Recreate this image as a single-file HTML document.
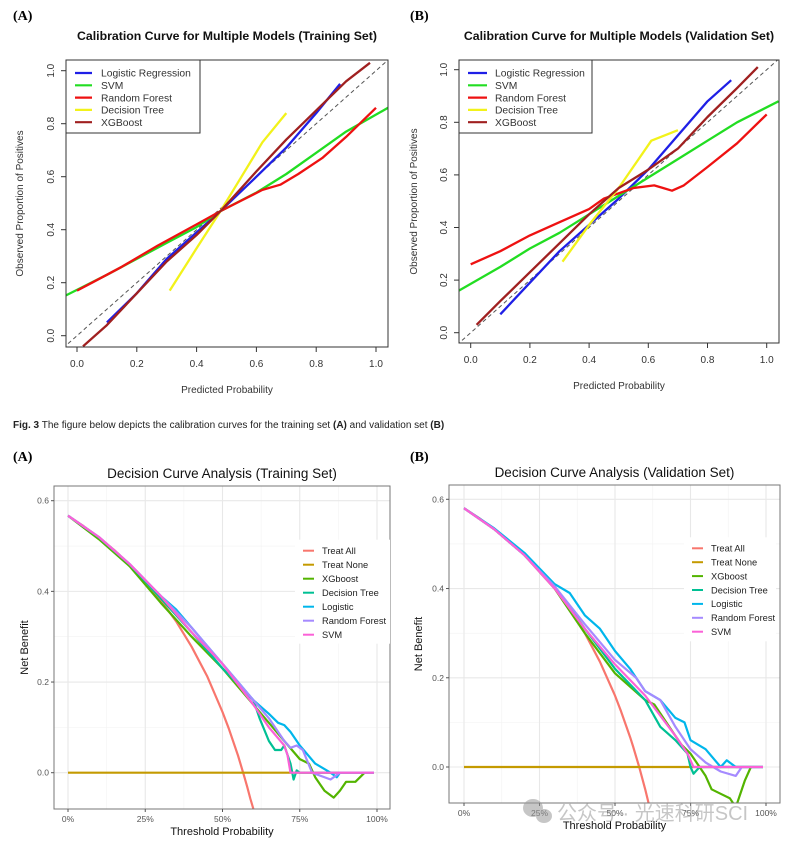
<!DOCTYPE html>
<html><head><meta charset="utf-8">
<style>
html,body{margin:0;padding:0;background:#fff;}
body{width:801px;height:845px;overflow:hidden;position:relative;font-family:"Liberation Sans",Arial,sans-serif;}
svg{position:absolute;left:0;top:0;}
</style></head>
<body>
<svg id="fig" width="801" height="845" viewBox="0 0 801 845">
<text x="13" y="20" font-family="Liberation Serif,serif" font-weight="bold" font-size="14">(A)</text>
<text x="410" y="20" font-family="Liberation Serif,serif" font-weight="bold" font-size="14">(B)</text>
<text x="13" y="428" font-size="10" fill="#222"><tspan font-weight="bold">Fig. 3</tspan>  The figure below depicts the calibration curves for the training set <tspan font-weight="bold">(A)</tspan> and validation set <tspan font-weight="bold">(B)</tspan></text>
<text x="13" y="461" font-family="Liberation Serif,serif" font-weight="bold" font-size="14">(A)</text>
<text x="410" y="461" font-family="Liberation Serif,serif" font-weight="bold" font-size="14">(B)</text>
</svg>
<script>
// ---------- Calibration data (Training) ----------
const calNames = ["Logistic Regression","SVM","Random Forest","Decision Tree","XGBoost"];
const calColors = ["#1f1fe6","#22dd22","#ee1111","#f2f21a","#a02020"];
const calA_LR_x = [0.1,0.2,0.3,0.4,0.48,0.6,0.7,0.8,0.88];
const calA_LR_y = [0.05,0.16,0.29,0.39,0.47,0.6,0.71,0.84,0.95];
const calA_SVM_x = [-0.04,0.1,0.2,0.3,0.4,0.48,0.6,0.7,0.8,0.9,1.04];
const calA_SVM_y = [0.15,0.23,0.29,0.35,0.41,0.47,0.54,0.61,0.69,0.77,0.86];
const calA_RF_x = [0,0.05,0.15,0.27,0.4,0.48,0.55,0.62,0.68,0.74,0.82,0.9,1.0];
const calA_RF_y = [0.17,0.2,0.26,0.34,0.42,0.47,0.51,0.55,0.57,0.61,0.67,0.75,0.86];
const calA_DT_x = [0.31,0.4,0.48,0.55,0.62,0.7];
const calA_DT_y = [0.17,0.33,0.47,0.6,0.73,0.84];
const calA_XGB_x = [0.02,0.1,0.2,0.3,0.4,0.48,0.6,0.7,0.8,0.9,0.98];
const calA_XGB_y = [-0.04,0.04,0.16,0.28,0.38,0.47,0.62,0.74,0.85,0.96,1.03];
// ---------- Calibration data (Validation) ----------
const calB_LR_x = [0.1,0.2,0.3,0.4,0.5,0.6,0.7,0.8,0.88];
const calB_LR_y = [0.07,0.19,0.31,0.41,0.51,0.62,0.75,0.88,0.96];
const calB_SVM_x = [-0.04,0.1,0.2,0.3,0.4,0.5,0.6,0.7,0.8,0.9,1.04];
const calB_SVM_y = [0.16,0.25,0.32,0.38,0.45,0.52,0.59,0.66,0.73,0.8,0.88];
const calB_RF_x = [0,0.1,0.2,0.3,0.4,0.45,0.5,0.55,0.62,0.65,0.68,0.72,0.8,0.9,1.0];
const calB_RF_y = [0.26,0.31,0.37,0.42,0.47,0.51,0.53,0.55,0.56,0.55,0.54,0.56,0.63,0.72,0.83];
const calB_DT_x = [0.31,0.4,0.5,0.61,0.7];
const calB_DT_y = [0.27,0.41,0.55,0.73,0.77];
const calB_XGB_x = [0.02,0.1,0.2,0.3,0.4,0.5,0.6,0.7,0.8,0.9,0.97];
const calB_XGB_y = [0.03,0.12,0.23,0.34,0.45,0.55,0.62,0.7,0.82,0.93,1.01];
const calTicks = [0,0.2,0.4,0.6,0.8,1.0];
const calTickLabels = ["0.0","0.2","0.4","0.6","0.8","1.0"];

// ---------- DCA data ----------
const dcaNames = ["Treat All","Treat None","XGboost","Decision Tree","Logistic","Random Forest","SVM"];
const dcaColors = ["#F8766D","#C49A00","#53B400","#00C094","#00B6EB","#A58AFF","#FB61D7"];
const dcaA_All_x = [0,0.05,0.1,0.15,0.2,0.25,0.3,0.35,0.4,0.45,0.5,0.52,0.55,0.57,0.58,0.59,0.6];
const dcaA_All_y = [0.567,0.544,0.519,0.491,0.459,0.423,0.381,0.334,0.278,0.213,0.134,0.098,0.038,-0.007,-0.031,-0.057,-0.08];
const dcaA_None_x = [0,0.99];
const dcaA_None_y = [0,0];
const dcaA_XGB_x = [0,0.1,0.2,0.3,0.4,0.5,0.6,0.65,0.7,0.75,0.78,0.8,0.83,0.86,0.88,0.9,0.93,0.96];
const dcaA_XGB_y = [0.567,0.515,0.455,0.375,0.3,0.23,0.15,0.11,0.07,0.03,0.02,-0.01,-0.04,-0.055,-0.04,-0.02,-0.02,0];
const dcaA_DT_x = [0,0.1,0.2,0.3,0.4,0.5,0.6,0.62,0.65,0.67,0.69,0.7,0.72,0.73,0.74,0.75,0.99];
const dcaA_DT_y = [0.567,0.519,0.459,0.385,0.31,0.23,0.16,0.12,0.07,0.05,0.05,0.06,0.02,-0.015,0.005,0,0];
const dcaA_LR_x = [0,0.1,0.2,0.3,0.35,0.4,0.45,0.5,0.55,0.6,0.65,0.68,0.7,0.72,0.75,0.8,0.85,0.87,0.88,0.99];
const dcaA_LR_y = [0.567,0.52,0.46,0.39,0.36,0.32,0.28,0.24,0.2,0.16,0.13,0.11,0.105,0.09,0.06,0.02,0,-0.01,0,0];
const dcaA_RF_x = [0,0.1,0.2,0.3,0.4,0.5,0.6,0.65,0.7,0.72,0.74,0.76,0.79,0.85,0.88,0.99];
const dcaA_RF_y = [0.567,0.52,0.46,0.39,0.32,0.24,0.16,0.12,0.07,0.055,0.06,0.05,0,-0.015,0,0];
const dcaA_SVM_x = [0,0.1,0.2,0.3,0.4,0.5,0.6,0.65,0.7,0.71,0.72,0.99];
const dcaA_SVM_y = [0.567,0.52,0.46,0.39,0.31,0.24,0.15,0.1,0.06,0.04,0,0];
const dcaB_All_x = [0,0.05,0.1,0.15,0.2,0.25,0.3,0.35,0.4,0.45,0.5,0.52,0.55,0.56,0.58,0.6,0.62];
const dcaB_All_y = [0.58,0.558,0.533,0.506,0.475,0.44,0.4,0.354,0.3,0.236,0.16,0.125,0.067,0.046,0,-0.05,-0.105];
const dcaB_None_x = [0,0.99];
const dcaB_None_y = [0,0];
const dcaB_XGB_x = [0,0.1,0.2,0.3,0.4,0.5,0.55,0.6,0.63,0.67,0.72,0.75,0.78,0.8,0.82,0.85,0.88,0.9,0.93,0.95];
const dcaB_XGB_y = [0.58,0.533,0.475,0.4,0.3,0.21,0.18,0.15,0.14,0.1,0.05,0.03,0,-0.02,-0.05,-0.06,-0.07,-0.09,-0.03,0];
const dcaB_DT_x = [0,0.1,0.2,0.3,0.4,0.5,0.6,0.65,0.7,0.74,0.75,0.76,0.78,0.99];
const dcaB_DT_y = [0.58,0.533,0.475,0.405,0.31,0.22,0.15,0.09,0.06,0.03,0,-0.015,0,0];
const dcaB_LR_x = [0,0.1,0.2,0.3,0.35,0.4,0.45,0.5,0.55,0.6,0.65,0.7,0.73,0.75,0.8,0.85,0.87,0.9,0.99];
const dcaB_LR_y = [0.58,0.535,0.48,0.41,0.39,0.34,0.31,0.26,0.22,0.17,0.15,0.11,0.1,0.06,0.04,0,0.015,0,0];
const dcaB_RF_x = [0,0.1,0.2,0.3,0.4,0.5,0.57,0.6,0.65,0.7,0.75,0.8,0.85,0.9,0.92,0.99];
const dcaB_RF_y = [0.58,0.533,0.475,0.405,0.32,0.24,0.2,0.17,0.15,0.09,0.04,0.01,-0.01,-0.02,0,0];
const dcaB_SVM_x = [0,0.1,0.2,0.3,0.4,0.5,0.6,0.7,0.74,0.76,0.99];
const dcaB_SVM_y = [0.58,0.533,0.475,0.4,0.31,0.23,0.16,0.07,0.03,0,0];
const dcaXTicks = [0,0.25,0.5,0.75,1.0];
const dcaXTickLabels = ["0%","25%","50%","75%","100%"];
const dcaYTicks = [0,0.2,0.4,0.6];
const dcaYTickLabels = ["0.0","0.2","0.4","0.6"];

const NS = "http://www.w3.org/2000/svg";
const svg = document.getElementById('fig');
function mk(tag, attrs, parent){
  const e = document.createElementNS(NS, tag);
  for (const k in attrs) e.setAttribute(k, attrs[k]);
  (parent||svg).appendChild(e);
  return e;
}
function linScale(d0,d1,r0,r1){ return v => r0 + (v-d0)/(d1-d0)*(r1-r0); }
function pathD(xs, ys, sx, sy){ return xs.map((x,i)=>(i?'L':'M')+sx(x).toFixed(1)+','+sy(ys[i]).toFixed(1)).join(''); }

function calPanel(id, cfg, series){
  const g = mk('g', {});
  
  
  const sx = linScale(0,1,cfg.x0,cfg.x1), sy = linScale(0,1,cfg.y0,cfg.y1);
  const clipId = 'clip-cal-' + id;
  const cp = mk('clipPath', {id: clipId}, g);
  mk('rect', {x:cfg.bx0, y:cfg.by0, width:cfg.bx1-cfg.bx0, height:cfg.by1-cfg.by0}, cp);
  const t = mk('text', {x:(cfg.bx0+cfg.bx1)/2, y:40, 'text-anchor':'middle', 'font-size':'12.3', 'font-weight':'bold', fill:'#111'}, g);
  t.textContent = cfg.title;
  
  
  const pg = mk('g', {'clip-path':'url(#'+clipId+')'}, g);
  const dg = mk('line', {x1:sx(-0.1), y1:sy(-0.1), x2:sx(1.1), y2:sy(1.1), stroke:'#555', 'stroke-width':1, 'stroke-dasharray':'4,3'}, pg);
  
  
  series.forEach((s,i)=>{
    const p = mk('path', {d:pathD(s[0], s[1], sx, sy), fill:'none', stroke:calColors[i], 'stroke-width':2.3, 'stroke-linejoin':'round'}, pg);
    
    
  });
  const box = mk('rect', {x:cfg.bx0, y:cfg.by0, width:cfg.bx1-cfg.bx0, height:cfg.by1-cfg.by0, fill:'none', stroke:'#333', 'stroke-width':1}, g);
  
  
  calTicks.forEach((v,i)=>{
    mk('line', {x1:sx(v), x2:sx(v), y1:cfg.by1, y2:cfg.by1+5, stroke:'#333'}, g);
    const tx = mk('text', {x:sx(v), y:cfg.by1+20, 'text-anchor':'middle', 'font-size':'10', fill:'#333'}, g);
    tx.textContent = calTickLabels[i];
    
    
    mk('line', {x1:cfg.bx0-5, x2:cfg.bx0, y1:sy(v), y2:sy(v), stroke:'#333'}, g);
    const ty = mk('text', {x:cfg.bx0-12, y:sy(v), 'text-anchor':'middle', 'font-size':'10', fill:'#333', transform:'rotate(-90 '+(cfg.bx0-12)+' '+sy(v)+')'}, g);
    ty.textContent = calTickLabels[i];
    
    
  });
  const xt = mk('text', {x:(cfg.bx0+cfg.bx1)/2, y:cfg.by1+46, 'text-anchor':'middle', 'font-size':'10', fill:'#333'}, g);
  xt.textContent = 'Predicted Probability';
  
  
  const yc = (cfg.by0+cfg.by1)/2;
  const yt = mk('text', {x:cfg.ytx, y:yc, 'text-anchor':'middle', 'font-size':'10', fill:'#333', transform:'rotate(-90 '+cfg.ytx+' '+yc+')'}, g);
  yt.textContent = 'Observed Proportion of Positives';
  
  
  const lg = mk('g', {}, g);
  
  
  mk('rect', {x:cfg.bx0, y:cfg.by0, width:cfg.lw, height:73, fill:'#fff', stroke:'#333'}, lg);
  calNames.forEach((n,i)=>{
    const y = cfg.by0 + 13 + i*12.3;
    mk('line', {x1:cfg.bx0+cfg.lx1, x2:cfg.bx0+cfg.lx2, y1:y, y2:y, stroke:calColors[i], 'stroke-width':2.2}, lg);
    const lt = mk('text', {x:cfg.bx0+cfg.ltx, y:y+3.7, 'font-size':'10.3', fill:'#333'}, lg);
    lt.textContent = n;
    
    
  });
}

function dcaPanel(id, cfg, series){
  const g = mk('g', {});
  
  
  const sx = linScale(0,1,cfg.x0,cfg.x1), sy = linScale(0,0.6,cfg.y0,cfg.y6);
  const clipId = 'clip-dca-' + id;
  const cp = mk('clipPath', {id: clipId}, g);
  mk('rect', {x:cfg.bx0, y:cfg.by0, width:cfg.bx1-cfg.bx0, height:cfg.by1-cfg.by0}, cp);
  const t = mk('text', {x:(cfg.bx0+cfg.bx1)/2, y:cfg.by0-8, 'text-anchor':'middle', 'font-size':'13.5', fill:'#111'}, g);
  t.textContent = cfg.title;
  
  
  const minorX = [0.125,0.375,0.625,0.875], minorY = [-0.1,0.1,0.3,0.5];
  minorX.forEach(v=>mk('line', {x1:sx(v), x2:sx(v), y1:cfg.by0, y2:cfg.by1, stroke:'#f2f2f2', 'stroke-width':0.6}, g));
  minorY.forEach(v=>{ if (sy(v) < cfg.by1) mk('line', {x1:cfg.bx0, x2:cfg.bx1, y1:sy(v), y2:sy(v), stroke:'#f2f2f2', 'stroke-width':0.6}, g); });
  dcaXTicks.forEach(v=>mk('line', {x1:sx(v), x2:sx(v), y1:cfg.by0, y2:cfg.by1, stroke:'#e8e8e8', 'stroke-width':1.1}, g));
  dcaYTicks.forEach(v=>mk('line', {x1:cfg.bx0, x2:cfg.bx1, y1:sy(v), y2:sy(v), stroke:'#e8e8e8', 'stroke-width':1.1}, g));
  const pg = mk('g', {'clip-path':'url(#'+clipId+')'}, g);
  series.forEach((s,i)=>{
    const p = mk('path', {d:pathD(s[0], s[1], sx, sy), fill:'none', stroke:dcaColors[i], 'stroke-width':2.2, 'stroke-linejoin':'round'}, pg);
    
    
  });
  const box = mk('rect', {x:cfg.bx0, y:cfg.by0, width:cfg.bx1-cfg.bx0, height:cfg.by1-cfg.by0, fill:'none', stroke:'#777', 'stroke-width':1}, g);
  
  
  dcaXTicks.forEach((v,i)=>{
    mk('line', {x1:sx(v), x2:sx(v), y1:cfg.by1, y2:cfg.by1+3, stroke:'#555'}, g);
    const tx = mk('text', {x:sx(v), y:cfg.by1+13, 'text-anchor':'middle', 'font-size':'8.5', fill:'#555'}, g);
    tx.textContent = dcaXTickLabels[i];
    
    
  });
  dcaYTicks.forEach((v,i)=>{
    mk('line', {x1:cfg.bx0-3, x2:cfg.bx0, y1:sy(v), y2:sy(v), stroke:'#555'}, g);
    const ty = mk('text', {x:cfg.bx0-5, y:sy(v)+3, 'text-anchor':'end', 'font-size':'8.5', fill:'#555'}, g);
    ty.textContent = dcaYTickLabels[i];
    
    
  });
  const xt = mk('text', {x:(cfg.bx0+cfg.bx1)/2, y:cfg.by1+26, 'text-anchor':'middle', 'font-size':'11', fill:'#111'}, g);
  xt.textContent = 'Threshold Probability';
  
  
  const yc = (cfg.by0+cfg.by1)/2;
  const yt = mk('text', {x:cfg.ytx, y:yc, 'text-anchor':'middle', 'font-size':'11', fill:'#111', transform:'rotate(-90 '+cfg.ytx+' '+yc+')'}, g);
  yt.textContent = 'Net Benefit';
  
  
  const lg = mk('g', {}, g);
  
  
  mk('rect', {x:cfg.lx-8, y:cfg.ly-11, width:cfg.lw, height:104, fill:'#fff'}, lg);
  dcaNames.forEach((n,i)=>{
    const y = cfg.ly + i*cfg.ls;
    mk('line', {x1:cfg.lx, x2:cfg.lx+11, y1:y, y2:y, stroke:dcaColors[i], 'stroke-width':2}, lg);
    const lt = mk('text', {x:cfg.lx+19, y:y+3.3, 'font-size':'9.3', fill:'#222'}, lg);
    lt.textContent = n;
    
    
  });
}

calPanel('training', {title:'Calibration Curve for Multiple Models (Training Set)', bx0:66, bx1:388, by0:60, by1:347, x0:77, x1:376, y0:335.7, y1:70.7, ytx:23, lw:134, lx1:9, lx2:26, ltx:35},
  [[calA_LR_x,calA_LR_y],[calA_SVM_x,calA_SVM_y],[calA_RF_x,calA_RF_y],[calA_DT_x,calA_DT_y],[calA_XGB_x,calA_XGB_y]]);
calPanel('validation', {title:'Calibration Curve for Multiple Models (Validation Set)', bx0:459, bx1:779, by0:60, by1:343, x0:470.7, x1:766.7, y0:332.7, y1:69.7, ytx:417, lw:133, lx1:9, lx2:28, ltx:36},
  [[calB_LR_x,calB_LR_y],[calB_SVM_x,calB_SVM_y],[calB_RF_x,calB_RF_y],[calB_DT_x,calB_DT_y],[calB_XGB_x,calB_XGB_y]]);
dcaPanel('training', {title:'Decision Curve Analysis (Training Set)', bx0:54, bx1:390, by0:486, by1:809, x0:68, x1:377, y0:772.7, y6:500.7, ytx:28, lx:303, ly:550.7, ls:14, lw:95},
  [[dcaA_All_x,dcaA_All_y],[dcaA_None_x,dcaA_None_y],[dcaA_XGB_x,dcaA_XGB_y],[dcaA_DT_x,dcaA_DT_y],[dcaA_LR_x,dcaA_LR_y],[dcaA_RF_x,dcaA_RF_y],[dcaA_SVM_x,dcaA_SVM_y]]);
dcaPanel('validation', {title:'Decision Curve Analysis (Validation Set)', bx0:449, bx1:780, by0:485, by1:803, x0:464, x1:766, y0:767, y6:499.3, ytx:422, lx:692, ly:548.3, ls:13.9, lw:92},
  [[dcaB_All_x,dcaB_All_y],[dcaB_None_x,dcaB_None_y],[dcaB_XGB_x,dcaB_XGB_y],[dcaB_DT_x,dcaB_DT_y],[dcaB_LR_x,dcaB_LR_y],[dcaB_RF_x,dcaB_RF_y],[dcaB_SVM_x,dcaB_SVM_y]]);

const wm = mk('g', {opacity:0.55});


mk('ellipse', {cx:533, cy:808, rx:10, ry:9, fill:'#999'}, wm);
mk('ellipse', {cx:544, cy:816, rx:8, ry:7, fill:'#999'}, wm);
const wt = mk('text', {x:557, y:820, 'font-size':'20', fill:'#999', 'font-family':'"Liberation Sans","Noto Sans CJK SC",sans-serif'}, wm);
wt.textContent = '公众号 · 光速科研SCI';
</script>
</body></html>
